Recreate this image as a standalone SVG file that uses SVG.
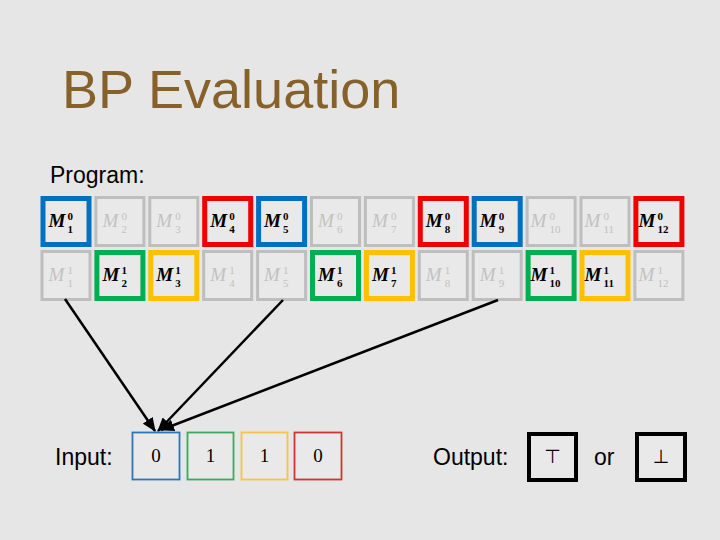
<svg xmlns="http://www.w3.org/2000/svg" width="720" height="540" viewBox="0 0 720 540">
<defs>
<style>
.bg{fill:#E6E6E6}
.title{font-family:"Liberation Sans",Arial,sans-serif;font-size:54px;fill:#86612A}
.lbl{font-family:"Liberation Sans",Arial,sans-serif;font-size:23px;fill:#000}
.cg{fill:#E9E9E9;stroke:#BEBEBE;stroke-width:3}
.cb{fill:#E9E9E9;stroke:#0070C0;stroke-width:5}
.cr{fill:#E9E9E9;stroke:#F00000;stroke-width:5}
.cgr{fill:#E9E9E9;stroke:#00B050;stroke-width:5}
.cy{fill:#E9E9E9;stroke:#FFC000;stroke-width:5}
.m{font-family:"Liberation Serif","Times New Roman",serif;font-style:italic;font-size:19px}
.s{font-family:"Liberation Serif","Times New Roman",serif;font-size:11px}
.on .m,.on .s{fill:#000;font-weight:bold}
.off .m,.off .s{fill:#C2C2C2}
.in{fill:#E9E9E9;stroke-width:1.8}
.dig{font-family:"Liberation Serif","Times New Roman",serif;font-size:19px;fill:#000;text-anchor:middle}
.out{fill:#E9E9E9;stroke:#000;stroke-width:4}
.sym{font-family:"DejaVu Sans",sans-serif;font-size:19px;fill:#000;text-anchor:middle}
.arr{stroke:#000;stroke-width:2.5;fill:none;marker-end:url(#ah)}
</style>
<marker id="ah" markerUnits="userSpaceOnUse" markerWidth="14" markerHeight="12" refX="13" refY="6" orient="auto">
<path d="M0,0 L14,6 L0,12 Z" fill="#000"/>
</marker>
</defs>
<rect class="bg" x="0" y="0" width="720" height="540"/>
<text class="title" x="62" y="108">BP Evaluation</text>
<text class="lbl" x="50" y="183">Program:</text>

<g id="top-row">
<g id="m1-0" class="on" transform="translate(40.5,196)"><rect class="cb" x="2.5" y="2.5" width="46" height="46"/><text class="m" x="8" y="31">M</text><text class="s" x="27" y="24">0</text><text class="s" x="27" y="37">1</text></g>
<g id="m2-0" class="off" transform="translate(94.4,196)"><rect class="cg" x="1.5" y="1.5" width="48" height="48"/><text class="m" x="8" y="31">M</text><text class="s" x="27" y="24">0</text><text class="s" x="27" y="37">2</text></g>
<g id="m3-0" class="off" transform="translate(148.3,196)"><rect class="cg" x="1.5" y="1.5" width="48" height="48"/><text class="m" x="8" y="31">M</text><text class="s" x="27" y="24">0</text><text class="s" x="27" y="37">3</text></g>
<g id="m4-0" class="on" transform="translate(202.2,196)"><rect class="cr" x="2.5" y="2.5" width="46" height="46"/><text class="m" x="8" y="31">M</text><text class="s" x="27" y="24">0</text><text class="s" x="27" y="37">4</text></g>
<g id="m5-0" class="on" transform="translate(256.1,196)"><rect class="cb" x="2.5" y="2.5" width="46" height="46"/><text class="m" x="8" y="31">M</text><text class="s" x="27" y="24">0</text><text class="s" x="27" y="37">5</text></g>
<g id="m6-0" class="off" transform="translate(310,196)"><rect class="cg" x="1.5" y="1.5" width="48" height="48"/><text class="m" x="8" y="31">M</text><text class="s" x="27" y="24">0</text><text class="s" x="27" y="37">6</text></g>
<g id="m7-0" class="off" transform="translate(363.9,196)"><rect class="cg" x="1.5" y="1.5" width="48" height="48"/><text class="m" x="8" y="31">M</text><text class="s" x="27" y="24">0</text><text class="s" x="27" y="37">7</text></g>
<g id="m8-0" class="on" transform="translate(417.8,196)"><rect class="cr" x="2.5" y="2.5" width="46" height="46"/><text class="m" x="8" y="31">M</text><text class="s" x="27" y="24">0</text><text class="s" x="27" y="37">8</text></g>
<g id="m9-0" class="on" transform="translate(471.7,196)"><rect class="cb" x="2.5" y="2.5" width="46" height="46"/><text class="m" x="8" y="31">M</text><text class="s" x="27" y="24">0</text><text class="s" x="27" y="37">9</text></g>
<g id="m10-0" class="off" transform="translate(525.6,196)"><rect class="cg" x="1.5" y="1.5" width="48" height="48"/><text class="m" x="5" y="31">M</text><text class="s" x="24" y="24">0</text><text class="s" x="24" y="37">10</text></g>
<g id="m11-0" class="off" transform="translate(579.5,196)"><rect class="cg" x="1.5" y="1.5" width="48" height="48"/><text class="m" x="5" y="31">M</text><text class="s" x="24" y="24">0</text><text class="s" x="24" y="37">11</text></g>
<g id="m12-0" class="on" transform="translate(633.4,196)"><rect class="cr" x="2.5" y="2.5" width="46" height="46"/><text class="m" x="5" y="31">M</text><text class="s" x="24" y="24">0</text><text class="s" x="24" y="37">12</text></g>
</g>

<g id="bottom-row">
<g id="m1-1" class="off" transform="translate(40.5,250)"><rect class="cg" x="1.5" y="1.5" width="48" height="48"/><text class="m" x="8" y="31">M</text><text class="s" x="27" y="24">1</text><text class="s" x="27" y="37">1</text></g>
<g id="m2-1" class="on" transform="translate(94.4,250)"><rect class="cgr" x="2.5" y="2.5" width="46" height="46"/><text class="m" x="8" y="31">M</text><text class="s" x="27" y="24">1</text><text class="s" x="27" y="37">2</text></g>
<g id="m3-1" class="on" transform="translate(148.3,250)"><rect class="cy" x="2.5" y="2.5" width="46" height="46"/><text class="m" x="8" y="31">M</text><text class="s" x="27" y="24">1</text><text class="s" x="27" y="37">3</text></g>
<g id="m4-1" class="off" transform="translate(202.2,250)"><rect class="cg" x="1.5" y="1.5" width="48" height="48"/><text class="m" x="8" y="31">M</text><text class="s" x="27" y="24">1</text><text class="s" x="27" y="37">4</text></g>
<g id="m5-1" class="off" transform="translate(256.1,250)"><rect class="cg" x="1.5" y="1.5" width="48" height="48"/><text class="m" x="8" y="31">M</text><text class="s" x="27" y="24">1</text><text class="s" x="27" y="37">5</text></g>
<g id="m6-1" class="on" transform="translate(310,250)"><rect class="cgr" x="2.5" y="2.5" width="46" height="46"/><text class="m" x="8" y="31">M</text><text class="s" x="27" y="24">1</text><text class="s" x="27" y="37">6</text></g>
<g id="m7-1" class="on" transform="translate(363.9,250)"><rect class="cy" x="2.5" y="2.5" width="46" height="46"/><text class="m" x="8" y="31">M</text><text class="s" x="27" y="24">1</text><text class="s" x="27" y="37">7</text></g>
<g id="m8-1" class="off" transform="translate(417.8,250)"><rect class="cg" x="1.5" y="1.5" width="48" height="48"/><text class="m" x="8" y="31">M</text><text class="s" x="27" y="24">1</text><text class="s" x="27" y="37">8</text></g>
<g id="m9-1" class="off" transform="translate(471.7,250)"><rect class="cg" x="1.5" y="1.5" width="48" height="48"/><text class="m" x="8" y="31">M</text><text class="s" x="27" y="24">1</text><text class="s" x="27" y="37">9</text></g>
<g id="m10-1" class="on" transform="translate(525.6,250)"><rect class="cgr" x="2.5" y="2.5" width="46" height="46"/><text class="m" x="5" y="31">M</text><text class="s" x="24" y="24">1</text><text class="s" x="24" y="37">10</text></g>
<g id="m11-1" class="on" transform="translate(579.5,250)"><rect class="cy" x="2.5" y="2.5" width="46" height="46"/><text class="m" x="5" y="31">M</text><text class="s" x="24" y="24">1</text><text class="s" x="24" y="37">11</text></g>
<g id="m12-1" class="off" transform="translate(633.4,250)"><rect class="cg" x="1.5" y="1.5" width="48" height="48"/><text class="m" x="5" y="31">M</text><text class="s" x="24" y="24">1</text><text class="s" x="24" y="37">12</text></g>
</g>

<g id="connectors">
<line class="arr" x1="65" y1="299" x2="155" y2="431"/>
<line class="arr" x1="283" y1="300" x2="158" y2="431"/>
<line class="arr" x1="498" y1="300" x2="161" y2="430"/>
</g>

<text class="lbl" x="55" y="465">Input:</text>
<g id="input">
<g id="in1"><rect class="in" x="132.5" y="432.5" width="47" height="47" stroke="#2E75B6"/><text class="dig" x="156" y="462">0</text></g>
<g id="in2"><rect class="in" x="187.5" y="432.5" width="46" height="47" stroke="#3AAA5C"/><text class="dig" x="210.5" y="462">1</text></g>
<g id="in3"><rect class="in" x="241.5" y="432.5" width="46" height="47" stroke="#F7C444"/><text class="dig" x="264.5" y="462">1</text></g>
<g id="in4"><rect class="in" x="294.5" y="432.5" width="47" height="47" stroke="#D03434"/><text class="dig" x="318" y="462">0</text></g>
</g>

<text class="lbl" x="433" y="465">Output:</text>
<g id="out-top"><rect class="out" x="529" y="434" width="47" height="46"/><text class="sym" x="552.5" y="463">⊤</text></g>
<text class="lbl" x="594" y="465">or</text>
<g id="out-bot"><rect class="out" x="637" y="434" width="48" height="46"/><text class="sym" x="661" y="463">⊥</text></g>
</svg>
